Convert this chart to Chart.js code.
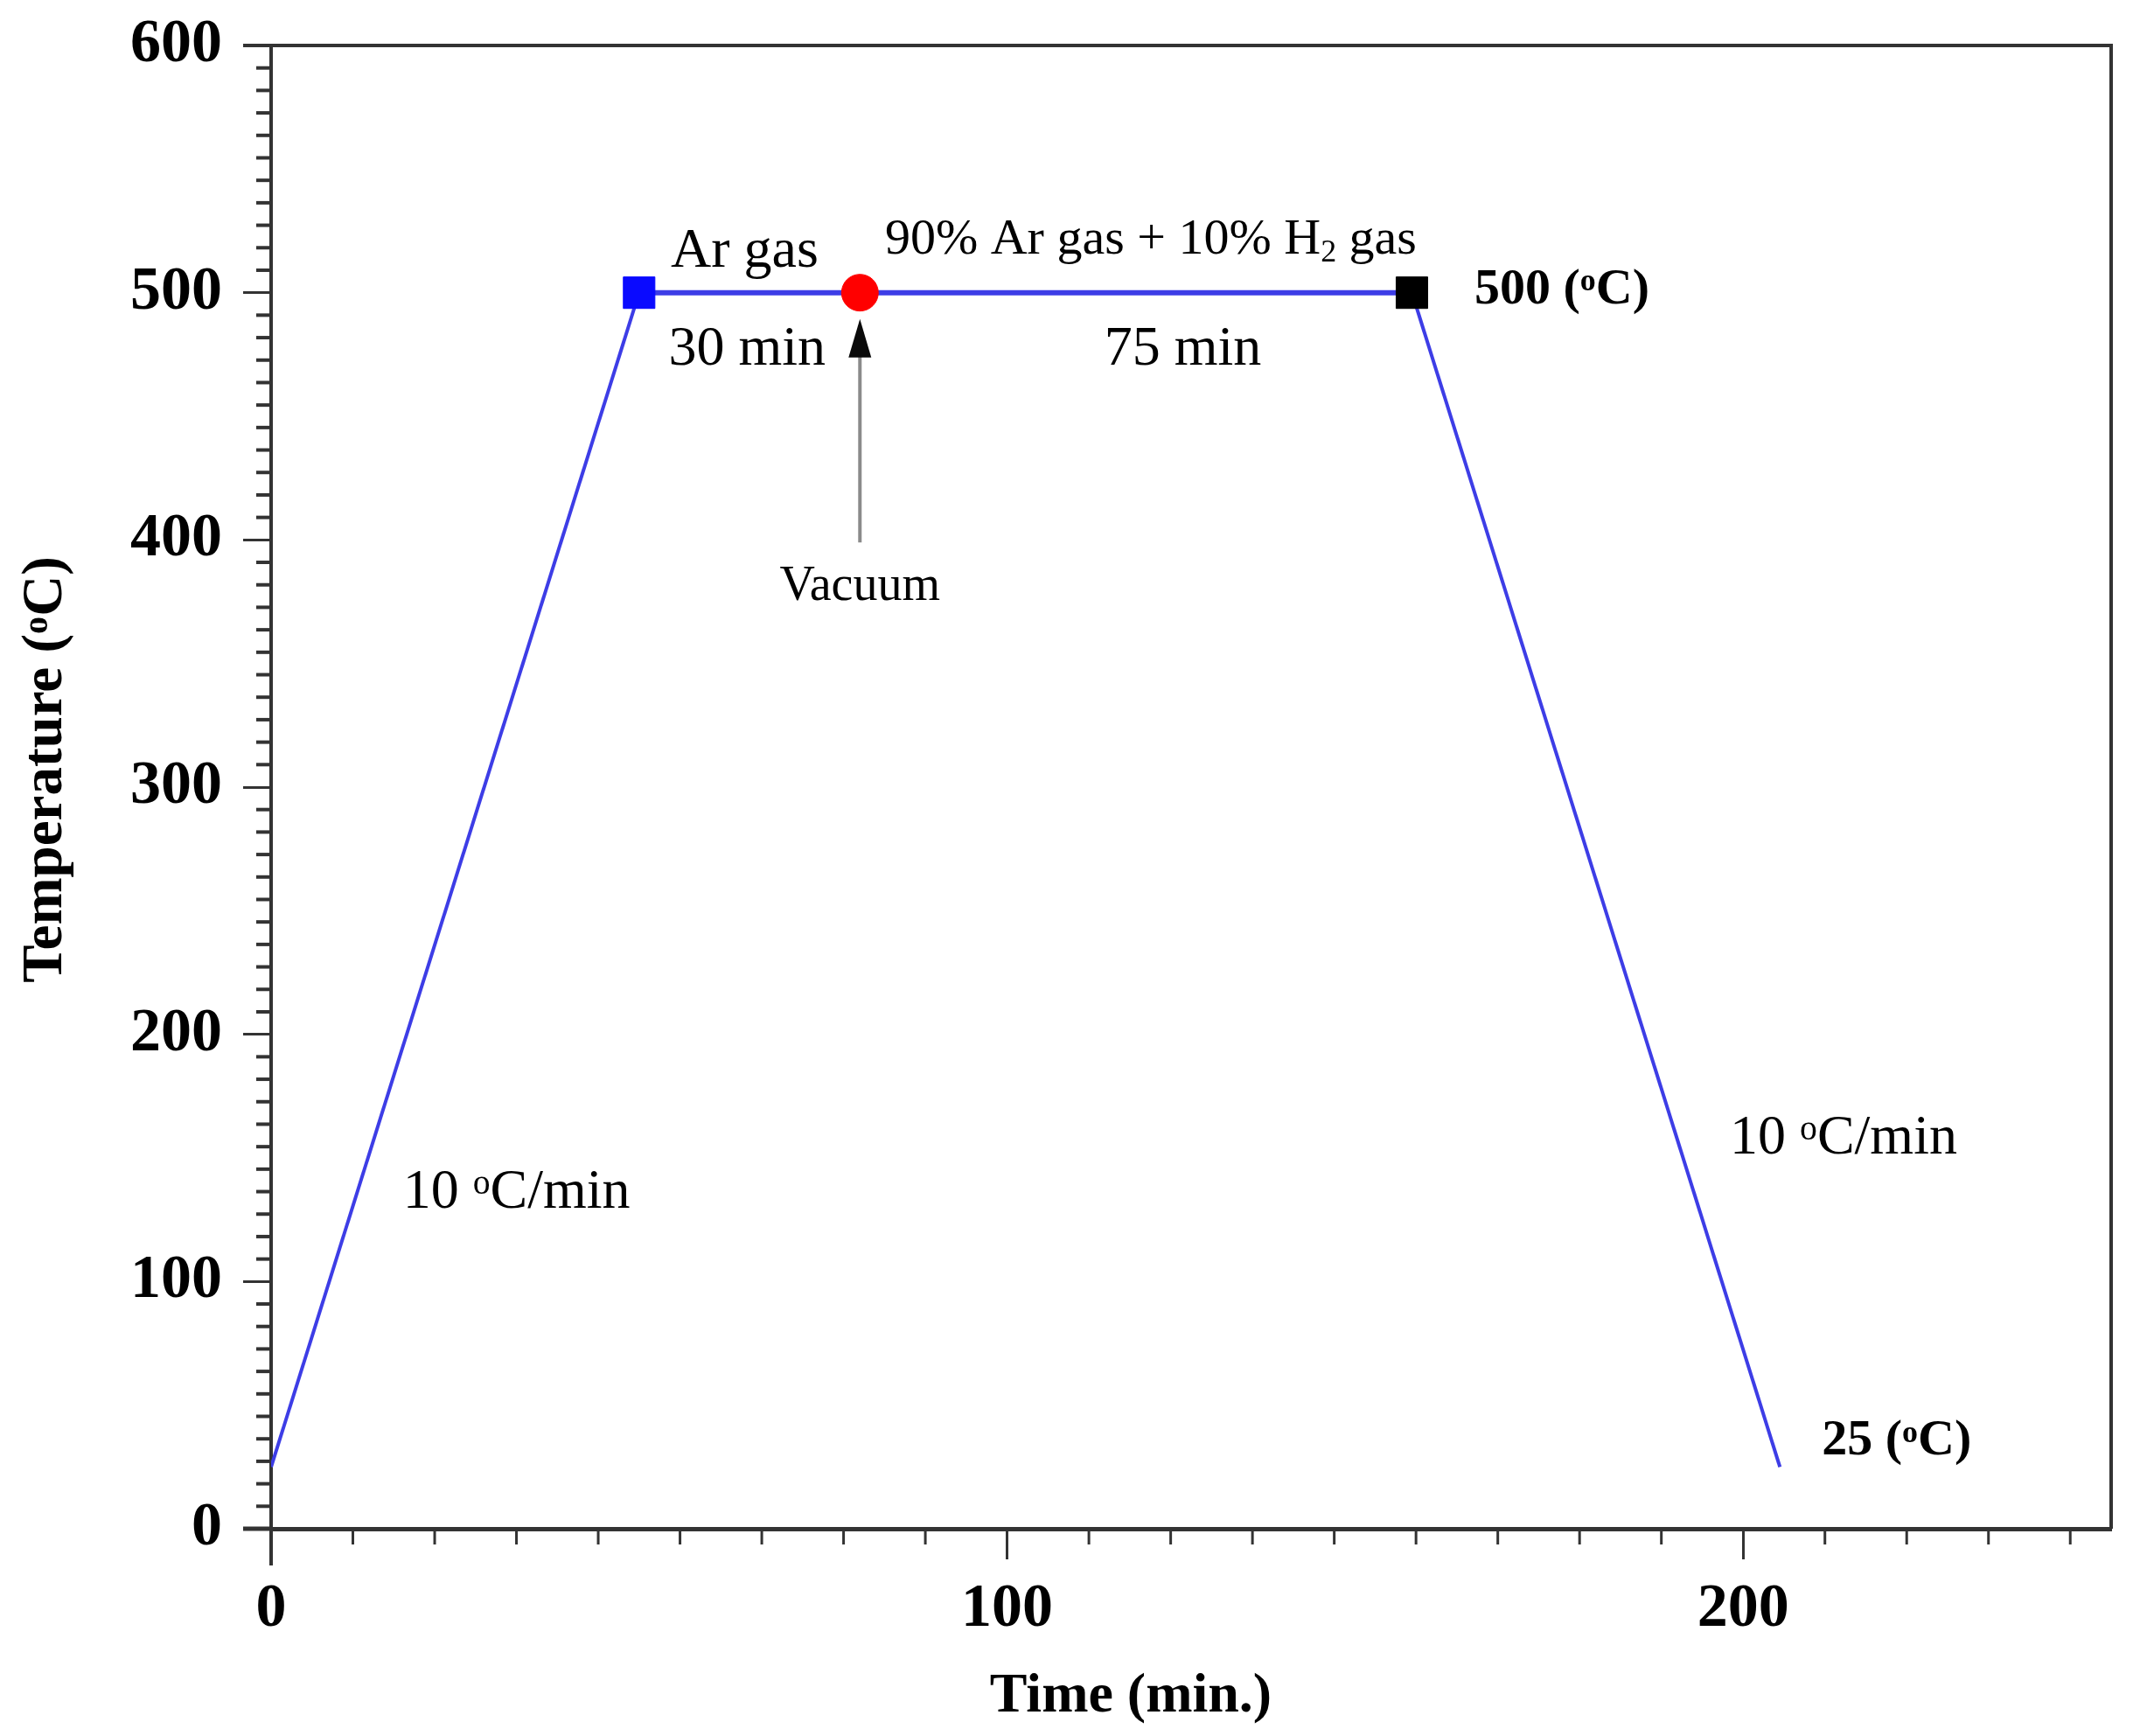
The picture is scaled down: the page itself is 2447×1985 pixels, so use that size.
<!DOCTYPE html>
<html>
<head>
<meta charset="utf-8">
<script src="https://cdn.jsdelivr.net/npm/chart.js@4.4.1/dist/chart.umd.min.js"></script>
<style>
  html, body { margin: 0; padding: 0; background: #fff; }
  #wrap { width: 2447px; height: 1985px; position: relative; }
</style>
</head>
<body>
<div id="wrap"><canvas id="chart"></canvas></div>
<script>
// Heat treatment profile: time (min) vs temperature (oC)
const timeMin = [0, 50, 80, 155, 205];
const tempC = [25, 500, 500, 500, 25];

// Axis ticks
const xTicks = [0, 100, 200];
const yTicks = [0, 100, 200, 300, 400, 500, 600];
const xMinorPerMajor = 9;
const yMinorPerMajor = 11;

// Marker look per point
const pointStyles = ["circle", "rect", "circle", "rect", "circle"];
const pointSizes = [0, 25.5, 21, 25.5, 0];
const pointColors = ["#3d3de6", "#0a0aff", "#ff0000", "#000000", "#3d3de6"];

// Text notes anchored in data coordinates; parts: [text, "sup" | "sub"]
const notes = [
  { x: 54.3, y: 510.6, size: 64, parts: [["Ar gas"]] },
  { x: 83.4, y: 515.9, size: 58, parts: [["90% Ar gas + 10% H"], ["2", "sub"], [" gas"]] },
  { x: 54.0, y: 471, size: 64, parts: [["30 min"]] },
  { x: 113.2, y: 471, size: 64, parts: [["75 min"]] },
  { x: 163.5, y: 495.8, size: 58, bold: true, parts: [["500 ("], ["o", "sup"], ["C)"]] },
  { x: 80, y: 375.6, size: 56, align: "center", parts: [["Vacuum"]] },
  { x: 17.9, y: 129.7, size: 64, parts: [["10 "], ["o", "sup"], ["C/min"]] },
  { x: 198.2, y: 151.6, size: 64, parts: [["10 "], ["o", "sup"], ["C/min"]] },
  { x: 210.7, y: 30, size: 58, bold: true, parts: [["25 ("], ["o", "sup"], ["C)"]] }
];

// Axis titles
const xTitle = [["Time (min.)"]];
const yTitle = [["Temperature ("], ["o", "sup"], ["C)"]];

// Vacuum arrow: x position, tail and tip temperature
const arrowX = 80;
const arrowFrom = 399;
const arrowTo = 489.4;

const serif = "'Liberation Serif', 'Times New Roman', serif";
const axisColor = "#333333";

function drawRich(ctx, parts, x, y, size, bold, align) {
  const w = bold ? "bold " : "";
  let total = 0;
  parts.forEach(([t, m]) => {
    ctx.font = w + (m ? size * 0.62 : size) + "px " + serif;
    total += ctx.measureText(t).width;
  });
  let cx = align === "center" ? x - total / 2 : x;
  ctx.textAlign = "left";
  ctx.textBaseline = "alphabetic";
  parts.forEach(([t, m]) => {
    const s = m ? size * 0.62 : size;
    ctx.font = w + s + "px " + serif;
    const dy = m === "sup" ? -size * 0.25 : m === "sub" ? size * 0.16 : 0;
    ctx.fillText(t, cx, y + dy);
    cx += ctx.measureText(t).width;
  });
}

const extrasPlugin = {
  id: "extras",
  afterDraw(chart) {
    const { ctx, chartArea: a, scales: { x, y } } = chart;
    ctx.save();

    // frame on top and right, small overhang of the axes
    ctx.strokeStyle = axisColor;
    ctx.lineWidth = 4;
    ctx.beginPath();
    ctx.moveTo(a.left - 32, a.top);
    ctx.lineTo(a.right, a.top);
    ctx.lineTo(a.right, a.bottom);
    ctx.stroke();
    ctx.lineWidth = 5;
    ctx.beginPath();
    ctx.moveTo(a.left - 32, a.bottom);
    ctx.lineTo(a.left, a.bottom);
    ctx.stroke();
    ctx.lineWidth = 4;
    ctx.beginPath();
    ctx.moveTo(a.left, a.bottom);
    ctx.lineTo(a.left, a.bottom + 42);
    ctx.stroke();

    // minor ticks
    ctx.lineWidth = 3;
    const xStep = (xTicks[1] - xTicks[0]) / xMinorPerMajor;
    for (let k = 1; k * xStep <= x.max; k++) {
      if (k % xMinorPerMajor === 0) continue;
      const px = x.getPixelForValue(k * xStep);
      ctx.beginPath();
      ctx.moveTo(px, a.bottom);
      ctx.lineTo(px, a.bottom + 18);
      ctx.stroke();
    }
    ctx.lineWidth = 4;
    const yStep = (yTicks[1] - yTicks[0]) / yMinorPerMajor;
    for (let k = 1; k * yStep < y.max; k++) {
      if (k % yMinorPerMajor === 0) continue;
      const py = y.getPixelForValue(k * yStep);
      ctx.beginPath();
      ctx.moveTo(a.left - 17, py);
      ctx.lineTo(a.left, py);
      ctx.stroke();
    }

    // vacuum arrow
    const ax = x.getPixelForValue(arrowX);
    const tail = y.getPixelForValue(arrowFrom);
    const tip = y.getPixelForValue(arrowTo);
    ctx.strokeStyle = "#8a8a8a";
    ctx.lineWidth = 4;
    ctx.beginPath();
    ctx.moveTo(ax, tail);
    ctx.lineTo(ax, tip + 40);
    ctx.stroke();
    ctx.fillStyle = "#0a0a0a";
    ctx.beginPath();
    ctx.moveTo(ax, tip);
    ctx.lineTo(ax - 13, tip + 44);
    ctx.lineTo(ax + 13, tip + 44);
    ctx.closePath();
    ctx.fill();

    // notes
    ctx.fillStyle = "#000000";
    notes.forEach(n => {
      drawRich(ctx, n.parts, x.getPixelForValue(n.x), y.getPixelForValue(n.y),
        n.size, n.bold, n.align);
    });

    // axis titles
    drawRich(ctx, xTitle, 1293, 1957, 64, true, "center");
    ctx.translate(70, 880);
    ctx.rotate(-Math.PI / 2);
    drawRich(ctx, yTitle, 0, 0, 65, true, "center");
    ctx.restore();
  }
};

const tickFont = { family: serif, size: 70, weight: "bold" };

new Chart(document.getElementById("chart"), {
  type: "line",
  data: {
    datasets: [{
      data: timeMin.map((t, i) => ({ x: t, y: tempC[i] })),
      borderColor: "#3d3de6",
      borderWidth: 4,
      segment: {
        borderWidth: c => (c.p0.parsed.y === c.p1.parsed.y ? 6 : 4)
      },
      pointStyle: pointStyles,
      pointRadius: pointSizes,
      pointBackgroundColor: pointColors,
      pointBorderColor: pointColors,
      pointBorderWidth: 1,
      tension: 0,
      fill: false
    }]
  },
  options: {
    responsive: true,
    maintainAspectRatio: false,
    devicePixelRatio: 1,
    animation: false,
    events: [],
    layout: { padding: { top: 52, right: 33, left: 0, bottom: 0 } },
    plugins: { legend: { display: false }, tooltip: { enabled: false } },
    scales: {
      x: {
        type: "linear",
        min: 0,
        max: 250,
        afterBuildTicks: s => { s.ticks = xTicks.map(v => ({ value: v })); },
        afterFit: s => { s.height = 237; s.paddingLeft = 0; s.paddingRight = 0; },
        ticks: { font: tickFont, color: "#000", padding: 16, maxRotation: 0 },
        grid: { drawOnChartArea: false, drawTicks: true, tickLength: 35, tickColor: axisColor, tickWidth: 3 },
        border: { color: axisColor, width: 5 }
      },
      y: {
        min: 0,
        max: 600,
        afterBuildTicks: s => { s.ticks = yTicks.map(v => ({ value: v })); },
        afterFit: s => { s.width = 310; s.paddingTop = 0; s.paddingBottom = 0; },
        ticks: { font: tickFont, color: "#000", padding: 24 },
        grid: { drawOnChartArea: false, drawTicks: true, tickLength: 32, tickColor: axisColor, tickWidth: 3 },
        border: { color: axisColor, width: 4 }
      }
    }
  },
  plugins: [extrasPlugin]
});
</script>
</body>
</html>
